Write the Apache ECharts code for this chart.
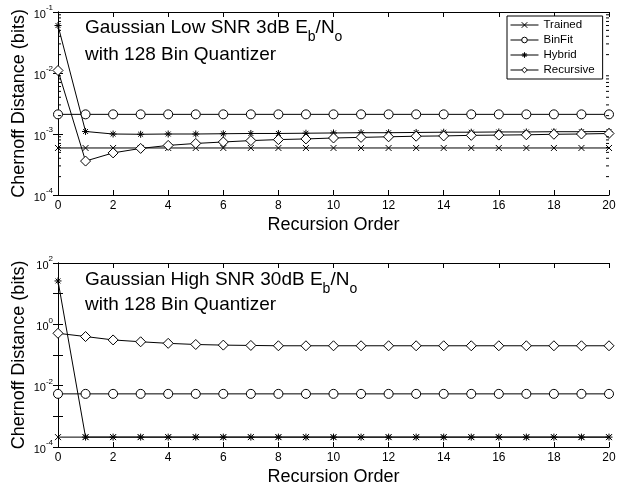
<!DOCTYPE html>
<html><head><meta charset="utf-8">
<script src="https://cdn.jsdelivr.net/npm/echarts@6/dist/echarts.min.js"></script>
<style>html,body{margin:0;padding:0;background:#fff}#c{width:619px;height:482px}</style>
</head><body><div id="c"></div>
<script>
const orders = [0,1,2,3,4,5,6,7,8,9,10,11,12,13,14,15,16,17,18,19,20];
const xTicks = [0,2,4,6,8,10,12,14,16,18,20];
// Top panel: Low SNR 3dB
const lowTrained   = [5.9e-4,5.9e-4,5.9e-4,5.9e-4,5.9e-4,5.9e-4,5.9e-4,5.9e-4,5.9e-4,5.9e-4,5.9e-4,5.9e-4,5.9e-4,5.9e-4,5.9e-4,5.9e-4,5.9e-4,5.9e-4,5.9e-4,5.9e-4,5.9e-4];
const lowBinFit    = [2.1e-3,2.1e-3,2.1e-3,2.1e-3,2.1e-3,2.1e-3,2.1e-3,2.1e-3,2.1e-3,2.1e-3,2.1e-3,2.1e-3,2.1e-3,2.1e-3,2.1e-3,2.1e-3,2.1e-3,2.1e-3,2.1e-3,2.1e-3,2.1e-3];
const lowHybrid    = [0.06,1.1e-3,1.0e-3,0.99e-3,1.0e-3,1.0e-3,1.01e-3,1.02e-3,1.02e-3,1.03e-3,1.04e-3,1.05e-3,1.05e-3,1.06e-3,1.07e-3,1.07e-3,1.08e-3,1.08e-3,1.09e-3,1.09e-3,1.1e-3];
const lowRecursive = [1.1e-2,3.6e-4,4.9e-4,5.8e-4,6.5e-4,7.0e-4,7.4e-4,7.8e-4,8.1e-4,8.3e-4,8.6e-4,8.8e-4,9.0e-4,9.2e-4,9.3e-4,9.5e-4,9.6e-4,9.7e-4,9.9e-4,1.0e-3,1.02e-3];
// Bottom panel: High SNR 30dB
const highTrained   = [2.1e-4,2.1e-4,2.1e-4,2.1e-4,2.1e-4,2.1e-4,2.1e-4,2.1e-4,2.1e-4,2.1e-4,2.1e-4,2.1e-4,2.1e-4,2.1e-4,2.1e-4,2.1e-4,2.1e-4,2.1e-4,2.1e-4,2.1e-4,2.1e-4];
const highBinFit    = [5.4e-3,5.4e-3,5.4e-3,5.4e-3,5.4e-3,5.4e-3,5.4e-3,5.4e-3,5.4e-3,5.4e-3,5.4e-3,5.4e-3,5.4e-3,5.4e-3,5.4e-3,5.4e-3,5.4e-3,5.4e-3,5.4e-3,5.4e-3,5.4e-3];
const highHybrid    = [26,2.1e-4,2.1e-4,2.1e-4,2.1e-4,2.1e-4,2.1e-4,2.1e-4,2.1e-4,2.1e-4,2.1e-4,2.1e-4,2.1e-4,2.1e-4,2.1e-4,2.1e-4,2.1e-4,2.1e-4,2.1e-4,2.1e-4,2.1e-4];
const highRecursive = [0.51,0.40,0.31,0.27,0.24,0.22,0.21,0.205,0.20,0.20,0.20,0.20,0.20,0.20,0.20,0.20,0.20,0.20,0.20,0.20,0.20];
const seriesNames = ['Trained','BinFit','Hybrid','Recursive'];
const topTitle = ['Gaussian Low SNR 3dB E', 'b', '/N', 'o'];
const botTitle = ['Gaussian High SNR 30dB E', 'b', '/N', 'o'];
const subtitle = 'with 128 Bin Quantizer';
const xName = 'Recursion Order';
const yName = 'Chernoff Distance (bits)';

const FONT = '"Liberation Sans", Arial, Helvetica, sans-serif';
const SYM = {
  Trained: 'path://M0,0L10,10M10,0L0,10',
  BinFit: 'circle',
  Hybrid: 'path://M5,0L5,10M0,5L10,5M1.5,1.5L8.5,8.5M8.5,1.5L1.5,8.5',
  Recursive: 'diamond'
};
const SIZE = {Trained: 6, BinFit: 9, Hybrid: 7, Recursive: 10};

const chart = echarts.init(document.getElementById('c'), null, {renderer: 'canvas'});

function pair(arr){ return orders.map((x,i)=>[x, arr[i]]); }
function mkSeries(name, arr, gi){
  return {
    name, type: 'line', xAxisIndex: gi*2, yAxisIndex: gi*2,
    data: pair(arr), symbol: SYM[name], symbolSize: SIZE[name],
    showAllSymbol: true, animation: false,
    lineStyle: {color: '#000', width: 1},
    itemStyle: {color: '#fff', borderColor: '#000', borderWidth: 1},
    z: 3
  };
}
const supLabel = v => {
  const e = Math.round(Math.log10(v));
  return '{b|10}{s|' + e + '}';
};
const rich = {
  b: {fontSize: 11, fontFamily: FONT, color: '#000', lineHeight: 16, verticalAlign: 'bottom'},
  s: {fontSize: 8, fontFamily: FONT, color: '#000', lineHeight: 16, verticalAlign: 'top'}
};
const grids = [
  {left: 58, right: 10, top: 12, height: 183, outerBoundsMode: 'none', containLabel: false},
  {left: 58, right: 10, top: 263, height: 184, outerBoundsMode: 'none', containLabel: false}
];
const yRanges = [[1e-4, 1e-1], [1e-4, 1e2]];
const xAxes = [], yAxes = [];
grids.forEach((g, gi) => {
  xAxes.push({
    type: 'value', gridIndex: gi, min: 0, max: 20, interval: 2, position: 'bottom',
    name: xName, nameLocation: 'middle', nameGap: 21, nameMoveOverlap: false,
    nameTextStyle: {fontSize: 18, fontFamily: FONT, color: '#000'},
    axisLine: {lineStyle: {color: '#000', width: 1}},
    axisTick: {inside: true, length: 5, lineStyle: {color: '#000'}},
    axisLabel: {fontSize: 12, fontFamily: FONT, color: '#000', margin: 5},
    splitLine: {show: false}
  });
  xAxes.push({
    type: 'value', gridIndex: gi, min: 0, max: 20, interval: 2, position: 'top',
    axisLine: {lineStyle: {color: '#000', width: 1}},
    axisTick: {inside: true, length: 5, lineStyle: {color: '#000'}},
    axisLabel: {show: false}, splitLine: {show: false}
  });
  yAxes.push({
    type: 'log', logBase: 10, gridIndex: gi, min: yRanges[gi][0], max: yRanges[gi][1],
    position: 'left',
    name: yName, nameLocation: 'middle', nameGap: 30, nameMoveOverlap: false,
    nameTextStyle: {fontSize: 18, fontFamily: FONT, color: '#000'},
    axisLine: {lineStyle: {color: '#000', width: 1}},
    axisTick: {inside: true, length: 5, lineStyle: {color: '#000'}},
    axisLabel: {formatter: v => {
      const e = Math.round(Math.log10(v));
      if (gi === 1 && Math.abs(e) % 2 === 1) return '';
      return supLabel(v);
    }, rich, margin: 5},
    splitLine: {show: false}
  });
  yAxes.push({
    type: 'log', logBase: 10, gridIndex: gi, min: yRanges[gi][0], max: yRanges[gi][1],
    position: 'right',
    axisLine: {lineStyle: {color: '#000', width: 1}},
    axisTick: {inside: true, length: 5, lineStyle: {color: '#000'}},
    axisLabel: {show: false}, splitLine: {show: false}
  });
});

// minor log ticks for the top panel (2..9 in each decade)
const minorVals = [];
for (let d = -4; d < -1; d++) for (let m = 2; m <= 9; m++) minorVals.push(m * Math.pow(10, d));
const minorSeries = {
  type: 'custom', xAxisIndex: 0, yAxisIndex: 0, silent: true, animation: false,
  data: minorVals.map(v => [0, v]), clip: false, z: 5,
  renderItem: (params, api) => {
    const v = api.value(1);
    const a = api.coord([0, v]), b = api.coord([20, v]);
    return {type: 'group', children: [
      {type: 'line', shape: {x1: a[0], y1: a[1], x2: a[0] + 3, y2: a[1]}, style: {stroke: '#000', lineWidth: 1}},
      {type: 'line', shape: {x1: b[0] - 3, y1: b[1], x2: b[0], y2: b[1]}, style: {stroke: '#000', lineWidth: 1}}
    ]};
  }
};

const titleRich = {
  n: {fontSize: 19, fontFamily: FONT, fontWeight: 'normal', color: '#000', lineHeight: 24, verticalAlign: 'bottom'},
  u: {fontSize: 14, fontFamily: FONT, fontWeight: 'normal', color: '#000', lineHeight: 24, verticalAlign: 'bottom', padding: [0,0,-7,0]}
};
function titleText(t){ return '{n|' + t[0] + '}{u|' + t[1] + '}{n|' + t[2] + '}{u|' + t[3] + '}'; }
const subStyle = {fontSize: 19, fontFamily: FONT, color: '#000', fontWeight: 'normal'};

chart.setOption({
  animation: false,
  backgroundColor: '#fff',
  grid: grids,
  xAxis: xAxes,
  yAxis: yAxes,
  title: [
    {left: 85, top: 13, text: titleText(topTitle), textStyle: {fontWeight: 'normal', rich: titleRich}, padding: 0},
    {left: 85, top: 45, text: subtitle, textStyle: subStyle, padding: 0},
    {left: 85, top: 265, text: titleText(botTitle), textStyle: {fontWeight: 'normal', rich: titleRich}, padding: 0},
    {left: 85, top: 295, text: subtitle, textStyle: subStyle, padding: 0}
  ],
  legend: {
    data: seriesNames, orient: 'vertical', left: 507, top: 16,
    backgroundColor: '#fff', borderColor: '#000', borderWidth: 1,
    padding: [3, 8, 3, 3], itemGap: 3, itemWidth: 28, itemHeight: 7,
    textStyle: {fontSize: 11.5, fontFamily: FONT, color: '#000'},
    lineStyle: {width: 1},
    itemStyle: {borderWidth: 1},
    selectedMode: false
  },
  series: [
    mkSeries('Trained', lowTrained, 0),
    mkSeries('BinFit', lowBinFit, 0),
    mkSeries('Hybrid', lowHybrid, 0),
    mkSeries('Recursive', lowRecursive, 0),
    mkSeries('Trained', highTrained, 1),
    mkSeries('BinFit', highBinFit, 1),
    mkSeries('Hybrid', highHybrid, 1),
    mkSeries('Recursive', highRecursive, 1),
    minorSeries
  ]
});
</script></body></html>
